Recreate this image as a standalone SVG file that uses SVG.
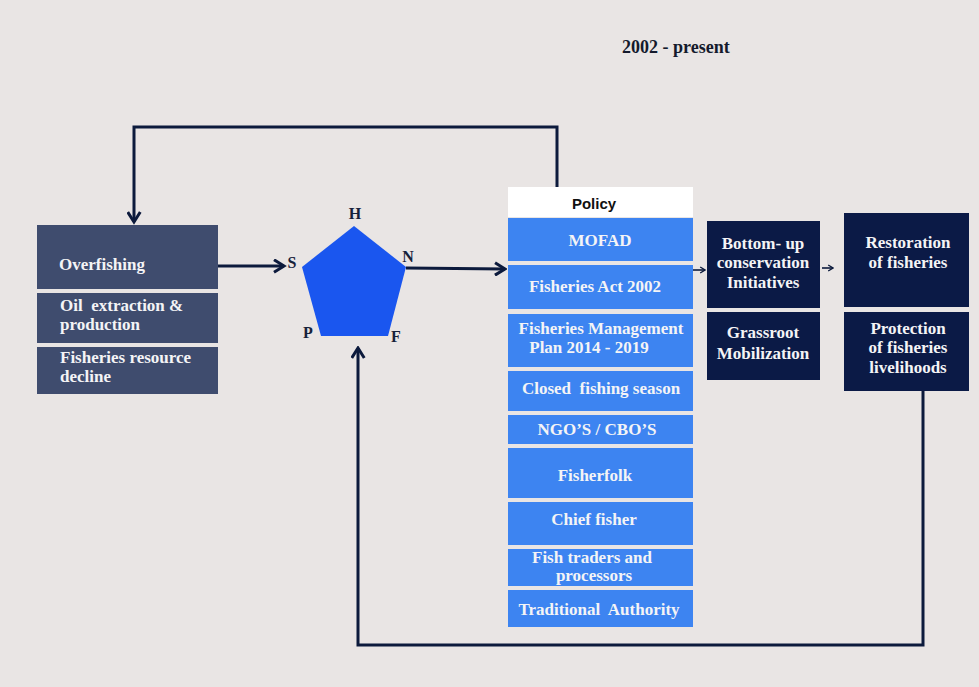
<svg xmlns="http://www.w3.org/2000/svg" width="979" height="687" viewBox="0 0 979 687">
  <defs>
    <style>
      .bg { fill: #e9e5e4; }
      .slate { fill: #3f4c6e; }
      .blue { fill: #3d84f1; }
      .navy { fill: #0b1a46; }
      .head { fill: #ffffff; }
      .t { font-family: "Liberation Serif", "Times New Roman", serif; font-weight: bold; fill: #f4f4f6; font-size: 17px; }
      .c { text-anchor: middle; }
      .lbl { font-family: "Liberation Serif", "Times New Roman", serif; font-weight: bold; fill: #16213a; font-size: 16px; text-anchor: middle; }
      .title { font-family: "Liberation Serif", "Times New Roman", serif; font-weight: bold; fill: #141a2c; font-size: 18px; }
      .pol { font-family: "Liberation Sans", Arial, sans-serif; font-weight: bold; fill: #111111; font-size: 15px; text-anchor: middle; }
      .wire { fill: none; stroke: #0c1a3c; stroke-width: 3; }
      .thin { fill: none; stroke: #0c1a3c; stroke-width: 1.6; }
    </style>
    <marker id="head" viewBox="0 0 12 12" refX="10" refY="6" markerWidth="5" markerHeight="5" orient="auto" markerUnits="strokeWidth">
      <path d="M2,1 L10,6 L2,11" fill="none" stroke="#0c1a3c" stroke-width="2.4"/>
    </marker>
    <marker id="headsm" viewBox="0 0 12 12" refX="10" refY="6" markerWidth="4.5" markerHeight="4.5" orient="auto" markerUnits="strokeWidth">
      <path d="M2,1 L10,6 L2,11" fill="none" stroke="#0c1a3c" stroke-width="2.2"/>
    </marker>
  </defs>

  <rect class="bg" x="0" y="0" width="979" height="687"/>

  <text class="title" x="622" y="53">2002 - present</text>

  <!-- connectors -->
  <g id="connectors">
    <polyline class="wire" points="557,187 557,127 134,127 134,222" marker-end="url(#head)"/>
    <line class="wire" x1="218" y1="266" x2="284" y2="266" marker-end="url(#head)"/>
    <line class="wire" x1="406" y1="268" x2="505" y2="269" marker-end="url(#head)"/>
    <line class="thin" x1="693" y1="270" x2="705" y2="270" marker-end="url(#headsm)"/>
    <line class="thin" x1="822" y1="268" x2="833" y2="268" marker-end="url(#headsm)"/>
    <polyline class="wire" points="923,391 923,645 358,645 358,348" marker-end="url(#head)"/>
  </g>

  <!-- drivers -->
  <g id="overfishing">
    <rect class="slate" x="37" y="225" width="181" height="64"/>
    <text class="t" x="59" y="270">Overfishing</text>
  </g>
  <g id="oil-extraction">
    <rect class="slate" x="37" y="293" width="181" height="50"/>
    <text class="t" x="60" y="311" xml:space="preserve">Oil  extraction &amp;</text>
    <text class="t" x="60" y="330">production</text>
  </g>
  <g id="resource-decline">
    <rect class="slate" x="37" y="347" width="181" height="47"/>
    <text class="t" x="60" y="363">Fisheries resource</text>
    <text class="t" x="60" y="382">decline</text>
  </g>

  <!-- capital pentagon -->
  <g id="pentagon">
    <polygon points="354,226 406,267 388,336 321,336 302,267" fill="#1a56ef"/>
    <text class="lbl" x="355" y="219">H</text>
    <text class="lbl" x="292" y="268">S</text>
    <text class="lbl" x="408" y="262">N</text>
    <text class="lbl" x="308" y="338">P</text>
    <text class="lbl" x="396" y="342">F</text>
  </g>

  <!-- policy column -->
  <g id="policy">
    <rect class="head" x="508" y="187" width="185" height="30"/>
    <text class="pol" x="594" y="209">Policy</text>
  </g>
  <g id="mofad">
    <rect class="blue" x="508" y="218" width="185" height="43"/>
    <text class="t c" x="600" y="246">MOFAD</text>
  </g>
  <g id="fisheries-act">
    <rect class="blue" x="508" y="265" width="185" height="44"/>
    <text class="t c" x="595" y="292">Fisheries Act 2002</text>
  </g>
  <g id="management-plan">
    <rect class="blue" x="508" y="314" width="185" height="53"/>
    <text class="t c" x="601" y="334">Fisheries Management</text>
    <text class="t c" x="589" y="353">Plan 2014 - 2019</text>
  </g>
  <g id="closed-season">
    <rect class="blue" x="508" y="371" width="185" height="40"/>
    <text class="t c" x="601" y="394" xml:space="preserve">Closed  fishing season</text>
  </g>
  <g id="ngo-cbo">
    <rect class="blue" x="508" y="415" width="185" height="29"/>
    <text class="t c" x="597" y="435">NGO’S / CBO’S</text>
  </g>
  <g id="fisherfolk">
    <rect class="blue" x="508" y="448" width="185" height="50"/>
    <text class="t c" x="595" y="481">Fisherfolk</text>
  </g>
  <g id="chief-fisher">
    <rect class="blue" x="508" y="502" width="185" height="43"/>
    <text class="t c" x="594" y="525">Chief fisher</text>
  </g>
  <g id="fish-traders">
    <rect class="blue" x="508" y="549" width="185" height="37"/>
    <text class="t c" x="592" y="563" font-size="15">Fish traders and</text>
    <text class="t c" x="594" y="581" font-size="15">processors</text>
  </g>
  <g id="traditional-authority">
    <rect class="blue" x="508" y="590" width="185" height="37"/>
    <text class="t c" x="599" y="615" xml:space="preserve">Traditional  Authority</text>
  </g>

  <!-- responses -->
  <g id="bottom-up">
    <rect class="navy" x="707" y="221" width="113" height="87"/>
    <text class="t c" x="763" y="249">Bottom- up</text>
    <text class="t c" x="763" y="268">conservation</text>
    <text class="t c" x="763" y="288">Initiatives</text>
  </g>
  <g id="grassroot">
    <rect class="navy" x="707" y="312" width="113" height="68"/>
    <text class="t c" x="763" y="338">Grassroot</text>
    <text class="t c" x="763" y="359">Mobilization</text>
  </g>

  <!-- outcomes -->
  <g id="restoration">
    <rect class="navy" x="844" y="213" width="125" height="94"/>
    <text class="t c" x="908" y="248">Restoration</text>
    <text class="t c" x="908" y="268">of fisheries</text>
  </g>
  <g id="protection">
    <rect class="navy" x="844" y="312" width="125" height="79"/>
    <text class="t c" x="908" y="334">Protection</text>
    <text class="t c" x="908" y="353">of fisheries</text>
    <text class="t c" x="908" y="373">livelihoods</text>
  </g>
</svg>
